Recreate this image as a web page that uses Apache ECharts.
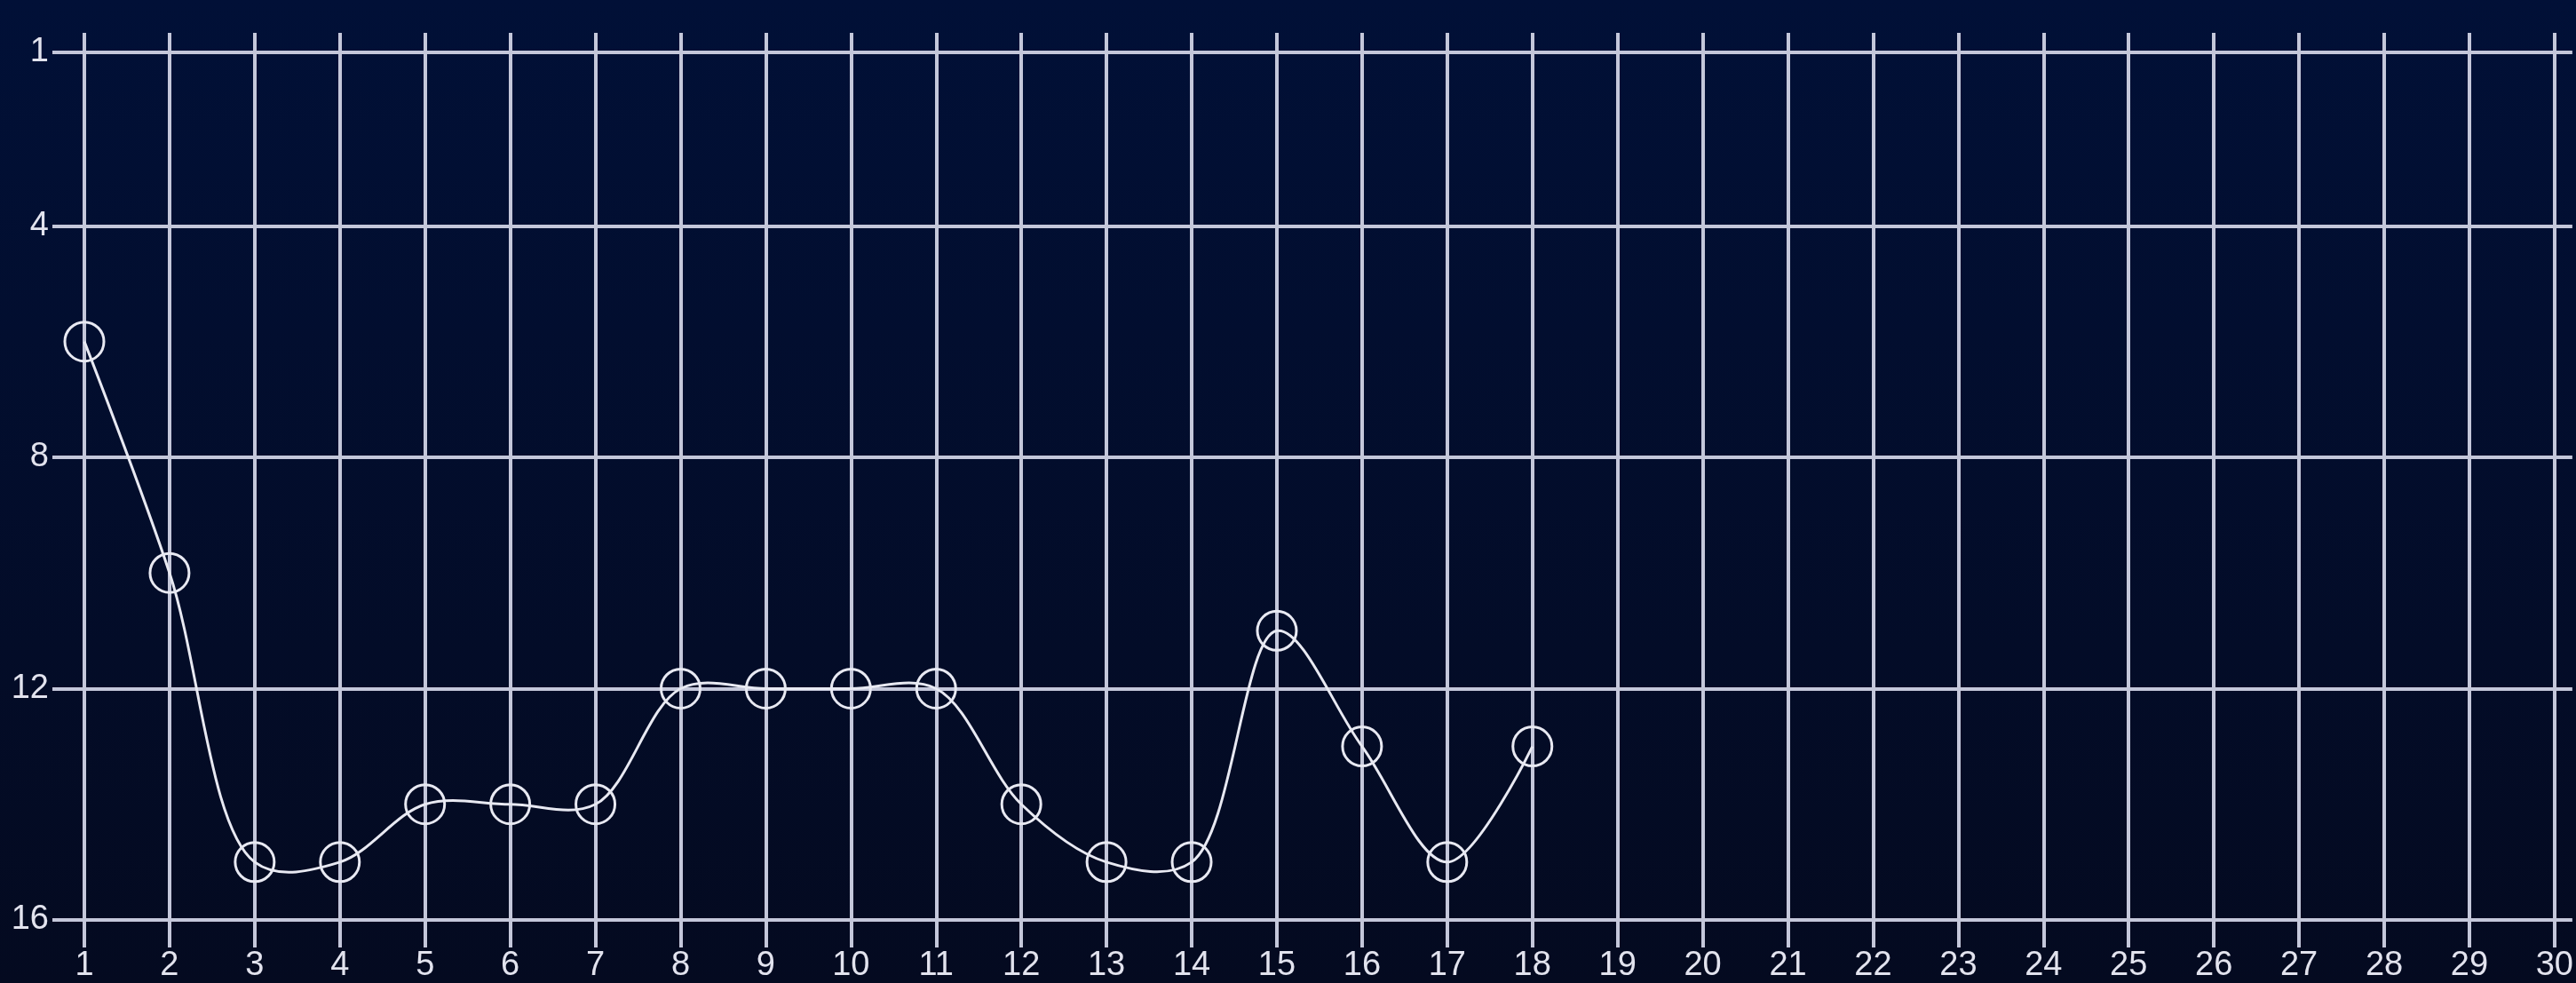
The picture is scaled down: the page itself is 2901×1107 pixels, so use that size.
<!DOCTYPE html>
<html>
<head>
<meta charset="utf-8">
<script src="https://cdn.jsdelivr.net/npm/echarts@6/dist/echarts.min.js"></script>
<style>
html,body{margin:0;padding:0;width:100%;height:100%;overflow:hidden;background:#020d2c;}
#chart{width:2901px;height:1107px;}
</style>
</head>
<body>
<div id="chart"></div>
<script>
const categories = ['1','2','3','4','5','6','7','8','9','10','11','12','13','14','15','16','17','18','19','20','21','22','23','24','25','26','27','28','29','30'];
const rankValues = [6, 10, 15, 15, 14, 14, 14, 12, 12, 12, 12, 14, 15, 15, 11, 13, 15, 13];
const yTickValues = [1, 4, 8, 12, 16];

const gridColor = '#c4c7da';
const textColor = '#e2e3ee';
const lineColor = '#e8e9f2';
const font = 'Liberation Sans, Arial, sans-serif';

// centripetal Catmull-Rom curve through the points placed by the chart's own coordinate system
function renderCurve(params, api) {
  if (params.dataIndex !== 0) return;
  const alpha = 0.5;
  const pts = rankValues.map((v, i) => api.coord([i, v]));
  const n = pts.length;
  const dist = (a, b) => Math.hypot(b[0] - a[0], b[1] - a[1]);
  let d = 'M' + pts[0][0] + ',' + pts[0][1];
  for (let i = 0; i < n - 1; i++) {
    const p0 = i > 0 ? pts[i - 1] : null;
    const p1 = pts[i];
    const p2 = pts[i + 1];
    const p3 = i + 2 < n ? pts[i + 2] : null;
    const l12 = dist(p1, p2);
    const l12a = Math.pow(l12, alpha), l12_2a = Math.pow(l12, 2 * alpha);
    let c1 = [p1[0], p1[1]], c2 = [p2[0], p2[1]];
    if (p0) {
      const l01 = dist(p0, p1);
      const l01a = Math.pow(l01, alpha), l01_2a = Math.pow(l01, 2 * alpha);
      if (l01a > 1e-12) {
        const a = 2 * l01_2a + 3 * l01a * l12a + l12_2a;
        const m = 3 * l01a * (l01a + l12a);
        c1 = [(p1[0] * a - p0[0] * l12_2a + p2[0] * l01_2a) / m,
              (p1[1] * a - p0[1] * l12_2a + p2[1] * l01_2a) / m];
      }
    }
    if (p3) {
      const l23 = dist(p2, p3);
      const l23a = Math.pow(l23, alpha), l23_2a = Math.pow(l23, 2 * alpha);
      if (l23a > 1e-12) {
        const b = 2 * l23_2a + 3 * l23a * l12a + l12_2a;
        const m = 3 * l23a * (l23a + l12a);
        c2 = [(p2[0] * b + p1[0] * l23_2a - p3[0] * l12_2a) / m,
              (p2[1] * b + p1[1] * l23_2a - p3[1] * l12_2a) / m];
      }
    }
    d += ' C' + c1[0] + ',' + c1[1] + ' ' + c2[0] + ',' + c2[1] + ' ' + p2[0] + ',' + p2[1];
  }
  return {
    type: 'path',
    shape: {pathData: d},
    style: {fill: 'none', stroke: lineColor, lineWidth: 3}
  };
}

const chart = echarts.init(document.getElementById('chart'), null, {renderer: 'canvas'});
chart.setOption({
  backgroundColor: {
    type: 'linear', x: 0, y: 0, x2: 0, y2: 1,
    colorStops: [{offset: 0, color: '#011037'}, {offset: 1, color: '#040a20'}]
  },
  animation: false,
  grid: {left: 95, right: 19, top: 59, bottom: 65, containLabel: false},
  xAxis: [{
    type: 'category',
    data: categories,
    boundaryGap: false,
    position: 'bottom',
    axisLine: {show: true, lineStyle: {color: gridColor, width: 4}},
    axisTick: {show: true, length: 31, interval: 0, lineStyle: {color: gridColor, width: 4}},
    axisLabel: {show: true, interval: 0, margin: 33, color: textColor, fontSize: 38, fontFamily: font},
    splitLine: {show: true, interval: 0, lineStyle: {color: gridColor, width: 4}}
  }, {
    type: 'category',
    data: categories,
    boundaryGap: false,
    position: 'top',
    axisLine: {show: false},
    axisTick: {show: true, length: 22, interval: 0, lineStyle: {color: gridColor, width: 4}},
    axisLabel: {show: false},
    splitLine: {show: false}
  }],
  yAxis: [{
    type: 'value',
    inverse: true,
    min: 1,
    max: 16,
    position: 'left',
    axisLine: {show: false},
    axisTick: {show: true, length: 36, customValues: yTickValues, lineStyle: {color: gridColor, width: 4}},
    axisLabel: {show: true, margin: 40, customValues: yTickValues, color: textColor, fontSize: 38, fontFamily: font},
    splitLine: {show: true, lineStyle: {color: gridColor, width: 4}}
  }, {
    type: 'value',
    inverse: true,
    min: 1,
    max: 16,
    position: 'right',
    axisLine: {show: false},
    axisTick: {show: true, length: 20, customValues: yTickValues, lineStyle: {color: gridColor, width: 4}},
    axisLabel: {show: false},
    splitLine: {show: false}
  }],
  series: [{
    type: 'custom',
    coordinateSystem: 'cartesian2d',
    data: rankValues.map((v, i) => [i, v]),
    renderItem: renderCurve,
    clip: false,
    silent: true,
    z: 4
  }, {
    type: 'line',
    data: rankValues,
    symbol: 'circle',
    symbolSize: 44,
    lineStyle: {opacity: 0, width: 0},
    itemStyle: {color: 'rgba(0,0,0,0)', borderColor: lineColor, borderWidth: 3},
    z: 5
  }]
});
</script>
</body>
</html>
